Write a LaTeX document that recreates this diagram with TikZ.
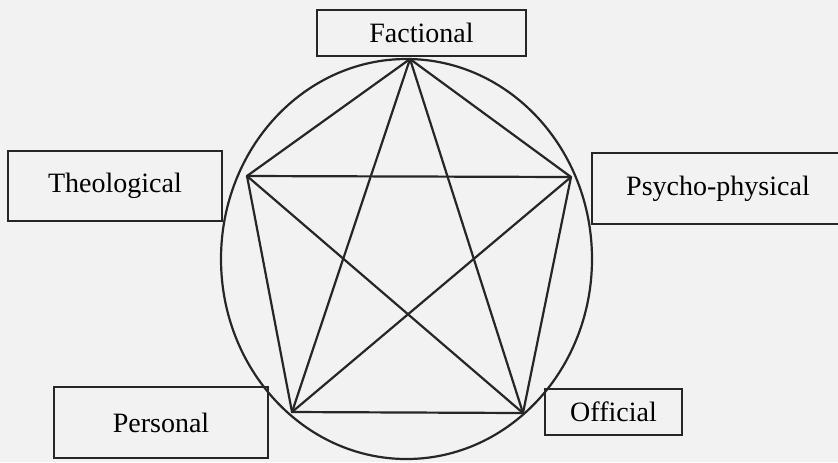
\documentclass[tikz,border=0pt]{standalone}
\usepackage{fontspec}
\setmainfont{Liberation Serif}
\usepackage{tikz}
\usetikzlibrary{positioning}
\definecolor{PaperGray}{HTML}{F2F2F2}
\definecolor{InkGray}{HTML}{262626}

\begin{document}
\begin{tikzpicture}[x=0.5pt,y=-0.5pt,
    labelbox/.style={draw=InkGray,line width=1.1pt,inner sep=0pt,font=\fontsize{14}{16}\selectfont},
    link/.style={draw=InkGray,line width=1.1pt,line cap=round}]
  \clip (0,0) rectangle (838,462);
  \fill[PaperGray] (0,0) rectangle (838,462);
  % the five boxes
  \node[labelbox,minimum width=104.5pt,minimum height=23pt] (factional) at (421.5,33) {Factional};
  \node[labelbox,minimum width=107pt,minimum height=35pt] (theological) at (115,186) {Theological};
  \node[labelbox,minimum width=126pt,minimum height=35.5pt] (psycho) at (718,188.5) {Psycho-physical};
  \node[labelbox,minimum width=107pt,minimum height=35.5pt] (personal) at (161,422.5) {Personal};
  \node[labelbox,minimum width=68.5pt,minimum height=23pt] (official) at (613.5,412) {Official};
  % corners of the pentagon
  \coordinate (fac) at (410,59);
  \coordinate (theo) at (247,176);
  \coordinate (psy) at (571,177);
  \coordinate (pers) at (292,412);
  \coordinate (off) at (523,413);
  \draw[link] (406.5,259) ellipse [x radius=185.5, y radius=200];
  \foreach \a/\b in {fac/theo,fac/psy,fac/pers,fac/off,theo/psy,
                     theo/pers,theo/off,psy/pers,psy/off,pers/off}
    \draw[link] (\a) -- (\b);
\end{tikzpicture}
\end{document}
